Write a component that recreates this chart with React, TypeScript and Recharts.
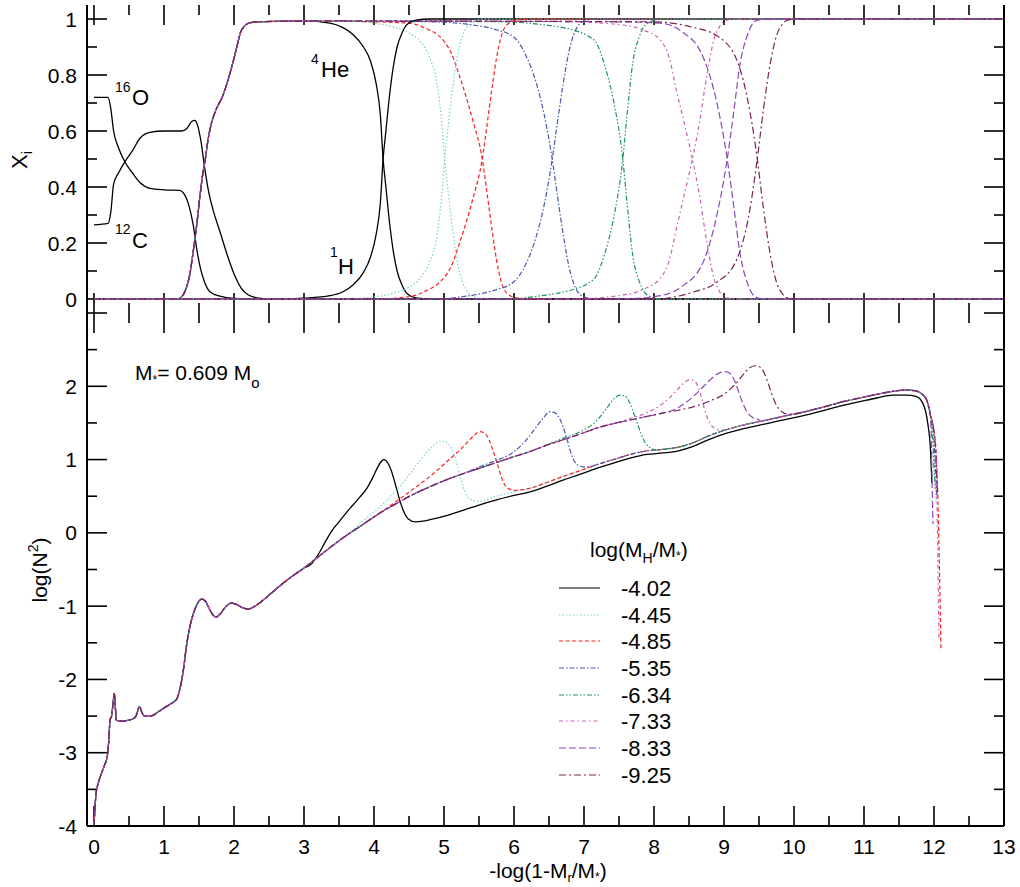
import React from 'react';
import { ComposedChart, Line, XAxis, YAxis, ReferenceLine } from 'recharts';

type Pt = [number, number];

// ---- axes ----
const xMajors = [0, 1, 2, 3, 4, 5, 6, 7, 8, 9, 10, 11, 12, 13];
const xMinors = [0.5, 1.5, 2.5, 3.5, 4.5, 5.5, 6.5, 7.5, 8.5, 9.5, 10.5, 11.5, 12.5];

const topMajors = [0, 0.2, 0.4, 0.6, 0.8, 1];
const topMinors = [0.1, 0.3, 0.5, 0.7, 0.9];

const botMajors = [-4, -3, -2, -1, 0, 1, 2, 3];
const botMinors = [-3.5, -2.5, -1.5, -0.5, 0.5, 1.5, 2.5];
const botLabels = [-4, -3, -2, -1, 0, 1, 2];

// ---- models: log(M_H/M*) ----
const models = ['-4.02', '-4.45', '-4.85', '-5.35', '-6.34', '-7.33', '-8.33', '-9.25'];
const colors = ['#000000', '#79d3cc', '#ff1f1f', '#4a58b0', '#20955a', '#cc60b8', '#8a48b8', '#7a2458'];
const dashes = ['', '1.5 2', '4 2.5', '5 2 1.5 2', '5 2 1.5 2 1.5 2', '4 3 1.5 3', '7 3', '7 3 2 3'];

// ---- top panel: abundances ----
const o16: Pt[] = [[0, 0.72], [0.2, 0.72], [0.24, 0.68], [0.28, 0.6], [0.35, 0.54], [0.44, 0.49], [0.55, 0.45], [0.66, 0.415], [0.8, 0.395], [1.0, 0.39], [1.22, 0.388], [1.3, 0.37], [1.36, 0.33], [1.42, 0.26], [1.47, 0.175], [1.52, 0.11], [1.58, 0.06], [1.66, 0.025], [1.8, 0.01], [2.0, 0.002], [2.3, 0], [13, 0]];
const c12: Pt[] = [[0, 0.265], [0.2, 0.27], [0.24, 0.31], [0.28, 0.41], [0.35, 0.45], [0.44, 0.49], [0.55, 0.53], [0.66, 0.575], [0.8, 0.595], [1.0, 0.6], [1.25, 0.6], [1.33, 0.61], [1.4, 0.635], [1.44, 0.638], [1.48, 0.62], [1.53, 0.56], [1.58, 0.47], [1.64, 0.38], [1.71, 0.31], [1.8, 0.24], [1.9, 0.16], [2.0, 0.09], [2.1, 0.04], [2.2, 0.015], [2.35, 0.003], [2.5, 0], [13, 0]];

const heCore: Pt[] = [[0, 0], [1.2, 0], [1.26, 0.01], [1.32, 0.04], [1.37, 0.09], [1.42, 0.175], [1.47, 0.27], [1.51, 0.36], [1.55, 0.44], [1.59, 0.5], [1.63, 0.57], [1.67, 0.62], [1.75, 0.68], [1.83, 0.72], [1.9, 0.77], [1.99, 0.85], [2.05, 0.91], [2.09, 0.95], [2.15, 0.975], [2.22, 0.986], [2.35, 0.99], [2.7, 0.992], [3.0, 0.993]];

const he402: Pt[] = [[3.37, 0.985], [3.55, 0.97], [3.7, 0.945], [3.85, 0.9], [3.95, 0.85], [4.03, 0.77], [4.09, 0.66], [4.13, 0.5], [4.17, 0.4], [4.21, 0.3], [4.27, 0.18], [4.33, 0.1], [4.4, 0.05], [4.47, 0.02], [4.6, 0.004], [4.8, 0], [13, 0]];
const h402: Pt[] = [[0, 0], [2.7, 0], [3.0, 0.003], [3.37, 0.012], [3.55, 0.025], [3.7, 0.05], [3.85, 0.095], [3.95, 0.15], [4.03, 0.23], [4.09, 0.34], [4.13, 0.5], [4.17, 0.6], [4.21, 0.7], [4.27, 0.82], [4.33, 0.9], [4.4, 0.95], [4.47, 0.98], [4.6, 0.996], [4.8, 1], [13, 1]];
const he445: Pt[] = [[3.6, 0.993], [4.0, 0.985], [4.3, 0.97], [4.5, 0.95], [4.66, 0.92], [4.8, 0.86], [4.9, 0.77], [4.96, 0.65], [5.01, 0.5], [5.07, 0.36], [5.13, 0.235], [5.2, 0.12], [5.27, 0.057], [5.34, 0.025], [5.41, 0.01], [5.6, 0], [13, 0]];
const h445: Pt[] = [[0, 0], [3.6, 0], [4.0, 0.008], [4.3, 0.022], [4.5, 0.042], [4.66, 0.075], [4.8, 0.135], [4.9, 0.225], [4.96, 0.35], [5.01, 0.5], [5.07, 0.64], [5.13, 0.765], [5.2, 0.88], [5.27, 0.943], [5.34, 0.975], [5.41, 0.99], [5.6, 1], [13, 1]];
const he485: Pt[] = [[4.0, 0.99], [4.5, 0.985], [4.75, 0.965], [4.94, 0.937], [5.1, 0.88], [5.23, 0.79], [5.33, 0.71], [5.42, 0.63], [5.54, 0.51], [5.63, 0.35], [5.69, 0.24], [5.75, 0.14], [5.82, 0.06], [5.9, 0.02], [6.05, 0.003], [6.2, 0], [13, 0]];
const h485: Pt[] = [[0, 0], [4.0, 0], [4.5, 0.008], [4.75, 0.03], [4.94, 0.06], [5.1, 0.115], [5.23, 0.205], [5.33, 0.285], [5.42, 0.365], [5.54, 0.49], [5.63, 0.65], [5.69, 0.76], [5.75, 0.86], [5.82, 0.94], [5.9, 0.98], [6.05, 0.997], [6.2, 1], [13, 1]];
const he535: Pt[] = [[4.8, 0.99], [5.37, 0.98], [5.7, 0.965], [5.99, 0.937], [6.17, 0.87], [6.32, 0.77], [6.43, 0.66], [6.54, 0.51], [6.62, 0.37], [6.7, 0.235], [6.8, 0.1], [6.9, 0.03], [6.98, 0.01], [7.15, 0], [13, 0]];
const h535: Pt[] = [[0, 0], [4.8, 0], [5.37, 0.012], [5.7, 0.03], [5.99, 0.06], [6.17, 0.125], [6.32, 0.225], [6.43, 0.335], [6.54, 0.49], [6.62, 0.63], [6.7, 0.765], [6.8, 0.9], [6.9, 0.97], [6.98, 0.99], [7.15, 1], [13, 1]];
const he634: Pt[] = [[5.8, 0.99], [6.4, 0.98], [6.85, 0.96], [7.05, 0.94], [7.18, 0.913], [7.3, 0.83], [7.42, 0.71], [7.55, 0.51], [7.62, 0.33], [7.7, 0.15], [7.78, 0.07], [7.85, 0.03], [7.95, 0.008], [8.1, 0], [13, 0]];
const h634: Pt[] = [[0, 0], [5.8, 0], [6.4, 0.012], [6.85, 0.035], [7.05, 0.055], [7.18, 0.085], [7.3, 0.165], [7.42, 0.285], [7.55, 0.49], [7.62, 0.67], [7.7, 0.85], [7.78, 0.93], [7.85, 0.97], [7.95, 0.99], [8.1, 1], [13, 1]];
const he733: Pt[] = [[6.8, 0.99], [7.5, 0.98], [7.85, 0.96], [8.09, 0.925], [8.22, 0.86], [8.32, 0.746], [8.43, 0.63], [8.54, 0.51], [8.65, 0.37], [8.75, 0.21], [8.85, 0.08], [8.93, 0.03], [8.99, 0.01], [9.15, 0], [13, 0]];
const h733: Pt[] = [[0, 0], [6.8, 0], [7.5, 0.012], [7.85, 0.035], [8.09, 0.075], [8.22, 0.14], [8.32, 0.25], [8.43, 0.37], [8.54, 0.49], [8.65, 0.63], [8.75, 0.79], [8.85, 0.92], [8.93, 0.97], [8.99, 0.99], [9.15, 1], [13, 1]];
const he833: Pt[] = [[7.5, 0.99], [8.09, 0.985], [8.4, 0.955], [8.7, 0.865], [8.89, 0.71], [9.04, 0.51], [9.14, 0.33], [9.23, 0.16], [9.33, 0.06], [9.4, 0.02], [9.47, 0.005], [9.6, 0], [13, 0]];
const h833: Pt[] = [[0, 0], [7.5, 0], [8.09, 0.012], [8.4, 0.045], [8.7, 0.13], [8.89, 0.29], [9.04, 0.49], [9.14, 0.67], [9.23, 0.84], [9.33, 0.94], [9.4, 0.98], [9.47, 0.995], [9.6, 1], [13, 1]];
const he925: Pt[] = [[8.0, 0.99], [8.56, 0.97], [8.9, 0.94], [9.18, 0.855], [9.37, 0.67], [9.47, 0.51], [9.56, 0.33], [9.66, 0.16], [9.75, 0.06], [9.83, 0.02], [9.9, 0.005], [10.05, 0], [13, 0]];
const h925: Pt[] = [[0, 0], [8.0, 0], [8.56, 0.025], [8.9, 0.06], [9.18, 0.14], [9.37, 0.32], [9.47, 0.49], [9.56, 0.67], [9.66, 0.84], [9.75, 0.94], [9.83, 0.98], [9.9, 0.995], [10.05, 1], [13, 1]];

const heTails = [he402, he445, he485, he535, he634, he733, he833, he925];
const hCurves = [h402, h445, h485, h535, h634, h733, h833, h925];

// ---- bottom panel: log(N^2) ----
const n2Core: Pt[] = [[0, -4.0], [0.03, -3.55], [0.06, -3.42], [0.1, -3.3], [0.15, -3.17], [0.19, -3.05], [0.21, -2.85], [0.23, -2.55], [0.25, -2.5], [0.27, -2.35], [0.29, -2.19], [0.3, -2.3], [0.32, -2.56], [0.4, -2.57], [0.47, -2.56], [0.55, -2.54], [0.6, -2.5], [0.65, -2.37], [0.68, -2.44], [0.72, -2.5], [0.78, -2.5], [0.84, -2.49], [0.92, -2.44], [1.0, -2.39], [1.1, -2.33], [1.18, -2.27], [1.23, -2.12], [1.28, -1.85], [1.32, -1.55], [1.37, -1.28], [1.42, -1.1], [1.48, -0.96], [1.54, -0.905], [1.59, -0.93], [1.64, -1.02], [1.69, -1.11], [1.74, -1.15], [1.8, -1.11], [1.88, -1.01], [1.96, -0.96], [2.04, -0.98], [2.12, -1.02], [2.2, -1.04], [2.3, -1.0], [2.4, -0.93], [2.5, -0.85], [2.75, -0.65], [3.0, -0.48]];

const upperEnv: Pt[] = [[3.2, -0.33], [3.4, -0.18], [3.6, -0.04], [3.85, 0.12], [4.1, 0.28], [4.32, 0.4], [4.55, 0.52], [4.8, 0.63], [5.05, 0.73], [5.28, 0.81], [5.5, 0.88], [5.75, 0.96], [6.0, 1.04], [6.23, 1.11], [6.45, 1.19], [6.7, 1.27], [6.95, 1.35], [7.18, 1.43], [7.42, 1.49], [7.66, 1.54], [7.9, 1.59], [8.1, 1.63], [8.33, 1.67], [8.56, 1.72]];

const lowerBlack: Pt[] = [[4.8, 0.18], [5.05, 0.24], [5.28, 0.31], [5.5, 0.38], [5.75, 0.45], [6.0, 0.51], [6.23, 0.56], [6.45, 0.63], [6.7, 0.72], [6.95, 0.8], [7.18, 0.88], [7.42, 0.95], [7.66, 1.02], [7.9, 1.07], [8.13, 1.09], [8.35, 1.12], [8.56, 1.18], [8.8, 1.28], [9.04, 1.36], [9.27, 1.42], [9.51, 1.47], [9.75, 1.52], [9.99, 1.57], [10.23, 1.62], [10.47, 1.68], [10.7, 1.74], [10.94, 1.79], [11.18, 1.84], [11.41, 1.88], [11.61, 1.88], [11.75, 1.86], [11.84, 1.77], [11.91, 1.5], [11.95, 1.13], [11.97, 0.68]];
const lowerColored: Pt[] = [[5.5, 0.43], [5.75, 0.5], [6.0, 0.56], [6.23, 0.61], [6.45, 0.68], [6.7, 0.77], [6.95, 0.85], [7.18, 0.93], [7.42, 1.0], [7.66, 1.07], [7.9, 1.12], [8.13, 1.14], [8.35, 1.17], [8.56, 1.23], [8.8, 1.33], [9.04, 1.41], [9.27, 1.47], [9.51, 1.52], [9.75, 1.57], [9.99, 1.62], [10.23, 1.67], [10.47, 1.73], [10.7, 1.79], [10.94, 1.84], [11.18, 1.89], [11.41, 1.93], [11.6, 1.95], [11.72, 1.94], [11.82, 1.9], [11.9, 1.8], [11.95, 1.6]];

const peak402: Pt[] = [[3.1, -0.43], [3.2, -0.3], [3.3, -0.13], [3.4, 0.03], [3.5, 0.15], [3.6, 0.27], [3.7, 0.38], [3.8, 0.49], [3.9, 0.61], [3.98, 0.75], [4.05, 0.89], [4.1, 0.97], [4.14, 1.0], [4.2, 0.95], [4.25, 0.84], [4.3, 0.68], [4.36, 0.47], [4.42, 0.3], [4.49, 0.19], [4.59, 0.15], [4.7, 0.16]];
const peak445: Pt[] = [[3.85, 0.17], [4.1, 0.37], [4.32, 0.58], [4.5, 0.79], [4.7, 1.04], [4.85, 1.19], [4.95, 1.25], [5.02, 1.24], [5.09, 1.18], [5.15, 1.06], [5.2, 0.88], [5.25, 0.7], [5.3, 0.56], [5.36, 0.47], [5.43, 0.44]];
const peak485: Pt[] = [[4.32, 0.43], [4.55, 0.59], [4.8, 0.77], [5.05, 0.98], [5.28, 1.18], [5.42, 1.32], [5.51, 1.38], [5.58, 1.36], [5.64, 1.28], [5.7, 1.12], [5.75, 0.98], [5.8, 0.82], [5.86, 0.67], [5.93, 0.6], [6.02, 0.58], [6.12, 0.59]];
const peak535: Pt[] = [[5.5, 0.9], [5.75, 0.99], [5.99, 1.1], [6.15, 1.24], [6.3, 1.42], [6.42, 1.57], [6.51, 1.65], [6.58, 1.64], [6.64, 1.58], [6.7, 1.45], [6.76, 1.27], [6.81, 1.1], [6.86, 0.98], [6.92, 0.92], [6.99, 0.9], [7.07, 0.9]];
const peak634: Pt[] = [[6.7, 1.29], [6.95, 1.38], [7.18, 1.53], [7.33, 1.71], [7.44, 1.84], [7.51, 1.88], [7.58, 1.87], [7.64, 1.8], [7.7, 1.66], [7.76, 1.5], [7.82, 1.34], [7.88, 1.22], [7.95, 1.16], [8.04, 1.13]];
const peak733: Pt[] = [[7.66, 1.56], [7.9, 1.64], [8.09, 1.74], [8.23, 1.85], [8.37, 1.99], [8.46, 2.07], [8.52, 2.09], [8.58, 2.07], [8.63, 1.99], [8.68, 1.84], [8.73, 1.66], [8.79, 1.51], [8.86, 1.43], [8.94, 1.4]];
const peak833: Pt[] = [[8.33, 1.7], [8.56, 1.86], [8.72, 2.01], [8.85, 2.13], [8.95, 2.19], [9.02, 2.2], [9.08, 2.18], [9.14, 2.1], [9.2, 1.95], [9.26, 1.79], [9.33, 1.65], [9.4, 1.58], [9.5, 1.54]];
const peak925: Pt[] = [[8.8, 1.8], [9.04, 1.92], [9.2, 2.07], [9.3, 2.19], [9.38, 2.26], [9.44, 2.28], [9.5, 2.27], [9.56, 2.21], [9.62, 2.07], [9.68, 1.9], [9.75, 1.74], [9.83, 1.65], [9.92, 1.62]];

const tail445: Pt[] = [[11.98, 1.3], [12.01, 0.8], [12.03, 0.4]];
const tail485: Pt[] = [[11.99, 1.45], [12.03, 1.1], [12.06, 0.3], [12.08, -0.6], [12.1, -1.6]];
const tail535: Pt[] = [[11.99, 1.4], [12.02, 0.9], [12.04, 0.5]];
const tail634: Pt[] = [[11.98, 1.3], [12.0, 0.9], [12.02, 0.6]];
const tail733: Pt[] = [[11.99, 1.45], [12.03, 1.0], [12.05, 0.0], [12.07, -1.45]];
const tail833: Pt[] = [[11.965, 1.1], [11.975, 0.6], [11.985, 0.12]];
const tail925: Pt[] = [[11.99, 1.45], [12.03, 1.0], [12.05, 0.5]];

const peaks = [peak445, peak485, peak535, peak634, peak733, peak833, peak925];
const tails = [tail445, tail485, tail535, tail634, tail733, tail833, tail925];

const toRows = (pts: Pt[]) => pts.map(([x, y]) => ({ x, y }));

// each colored model follows the upper curve, peaks, then follows the lower curve
const n2Curves: Pt[][] = [
  [...n2Core, ...peak402, ...lowerBlack],
  ...peaks.map((pk, i) => {
    const first = pk[0][0];
    const last = pk[pk.length - 1][0];
    return [
      ...n2Core,
      ...upperEnv.filter((p) => p[0] < first),
      ...pk,
      ...lowerColored.filter((p) => p[0] > last),
      ...tails[i],
    ];
  }),
];

// ---- axis helpers ----
const X_DOMAIN: [number, number] = [-0.1, 13];
const PLOT_W = 917;

const leftLabel = (props: any) => (
  <text x={Number(props.x) - 10} y={Number(props.y)} dy="0.36em" textAnchor="end" fontSize={21} fill="#000">
    {String(props.payload.value)}
  </text>
);
const bottomLabel = (props: any) => (
  <text x={Number(props.x)} y={Number(props.y) + 20} dy="0.36em" textAnchor="middle" fontSize={21} fill="#000">
    {String(props.payload.value)}
  </text>
);
const noLabel = () => <g />;
const lineStyle = { stroke: '#000', strokeWidth: 2 };

// inward tick marks on all four sides (20px major, 10px minor)
function tickMarks(yDomain: [number, number], plotH: number, yMajors: number[], yMinors: number[]) {
  const dx = (px: number) => (px * (X_DOMAIN[1] - X_DOMAIN[0])) / PLOT_W;
  const dy = (px: number) => (px * (yDomain[1] - yDomain[0])) / plotH;
  const segs: { x: number; y: number }[][] = [];
  const addX = (v: number, len: number) => {
    segs.push([{ x: v, y: yDomain[0] }, { x: v, y: yDomain[0] + dy(len) }]);
    segs.push([{ x: v, y: yDomain[1] }, { x: v, y: yDomain[1] - dy(len) }]);
  };
  const addY = (v: number, len: number) => {
    segs.push([{ x: X_DOMAIN[0], y: v }, { x: X_DOMAIN[0] + dx(len), y: v }]);
    segs.push([{ x: X_DOMAIN[1], y: v }, { x: X_DOMAIN[1] - dx(len), y: v }]);
  };
  xMajors.forEach((v) => addX(v, 20));
  xMinors.forEach((v) => addX(v, 10));
  yMajors.forEach((v) => addY(v, 20));
  yMinors.forEach((v) => addY(v, 10));
  return segs.map((s, i) => (
    <ReferenceLine key={`tk${i}`} segment={s} stroke="#000" strokeWidth={1.6} ifOverflow="visible" />
  ));
}

function frame(yDomain: [number, number], yLabels: number[], withXLabels: boolean, bottomHeight: number) {
  return [
    <XAxis key="xb" type="number" dataKey="x" domain={X_DOMAIN} ticks={xMajors} interval={0} allowDataOverflow
      height={bottomHeight} tickSize={0} tickMargin={0} tickLine={false} axisLine={lineStyle}
      tick={withXLabels ? bottomLabel : noLabel} />,
    <XAxis key="xt" xAxisId="top" orientation="top" type="number" dataKey="x" domain={X_DOMAIN} ticks={xMajors} interval={0}
      allowDataOverflow height={0} tickSize={0} tickMargin={0} tickLine={false} axisLine={lineStyle} tick={noLabel} />,
    <YAxis key="yl" type="number" domain={yDomain} ticks={yLabels} interval={0} allowDataOverflow width={87}
      tickSize={0} tickMargin={0} tickLine={false} axisLine={lineStyle} tick={leftLabel} />,
    <YAxis key="yr" yAxisId="right" orientation="right" type="number" domain={yDomain} ticks={yLabels} interval={0}
      allowDataOverflow width={16} tickSize={0} tickMargin={0} tickLine={false} axisLine={lineStyle} tick={noLabel} />,
  ];
}

function TopPanel() {
  const yDomain: [number, number] = [-0.05, 1.05];
  return (
    <ComposedChart width={1020} height={318} margin={{ top: 5, right: 0, bottom: 5, left: 0 }}>
      {frame(yDomain, topMajors, false, 0)}
      {tickMarks(yDomain, 308, topMajors, topMinors)}
      <Line data={toRows(o16)} dataKey="y" type="monotone" stroke="#000" strokeWidth={1.3} dot={false} isAnimationActive={false} />
      <Line data={toRows(c12)} dataKey="y" type="monotone" stroke="#000" strokeWidth={1.3} dot={false} isAnimationActive={false} />
      {models.map((m, i) => (
        <Line key={`he${m}`} data={toRows([...heCore, ...heTails[i]])} dataKey="y" type="monotone" stroke={colors[i]}
          strokeDasharray={dashes[i]} strokeWidth={i === 0 ? 1.3 : 1.2} dot={false} isAnimationActive={false} />
      ))}
      {models.map((m, i) => (
        <Line key={`h${m}`} data={toRows(hCurves[i])} dataKey="y" type="monotone" stroke={colors[i]}
          strokeDasharray={dashes[i]} strokeWidth={i === 0 ? 1.3 : 1.2} dot={false} isAnimationActive={false} />
      ))}
    </ComposedChart>
  );
}

function BottomPanel() {
  const yDomain: [number, number] = [-4, 3];
  return (
    <ComposedChart width={1020} height={579} margin={{ top: 5, right: 0, bottom: 0, left: 0 }}>
      {frame(yDomain, botLabels, true, 61)}
      {tickMarks(yDomain, 513, botMajors, botMinors)}
      {models.map((m, i) => (
        <Line key={`n2${m}`} data={toRows(n2Curves[i])} dataKey="y" type="monotone" stroke={colors[i]}
          strokeDasharray={dashes[i]} strokeWidth={i === 0 ? 1.3 : 1.2} dot={false} isAnimationActive={false} />
      ))}
    </ComposedChart>
  );
}

function Overlay() {
  const legendY = [588, 615, 641, 668, 695, 721, 748, 775];
  return (
    <svg width={1020} height={887} style={{ position: 'absolute', left: 0, top: 0, pointerEvents: 'none' }}
      fontFamily='"Liberation Sans", Arial, sans-serif' fill="#000">
      <text x={27} y={160} transform="rotate(-90 27 160)" textAnchor="middle" fontSize={22}>
        X<tspan fontSize={14} dy={5}>i</tspan>
      </text>
      <text x={47} y={570} transform="rotate(-90 47 570)" textAnchor="middle" fontSize={21}>
        log(N<tspan fontSize={14} dy={-9}>2</tspan><tspan dy={9}>)</tspan>
      </text>
      <text x={548} y={878} textAnchor="middle" fontSize={21}>
        -log(1-M<tspan fontSize={13} dy={4}>r</tspan><tspan dy={-4}>/M</tspan><tspan fontSize={12} dy={3}>*</tspan><tspan dy={-3}>)</tspan>
      </text>
      <text x={115} y={92} fontSize={14}>16</text>
      <text x={132} y={105} fontSize={22}>O</text>
      <text x={115} y={234} fontSize={14}>12</text>
      <text x={132} y={248} fontSize={22}>C</text>
      <text x={311} y={64} fontSize={14}>4</text>
      <text x={321} y={77} fontSize={22}>He</text>
      <text x={330} y={257} fontSize={14}>1</text>
      <text x={338} y={274} fontSize={22}>H</text>
      <text x={135} y={380} fontSize={21}>
        M<tspan fontSize={12} dy={4}>*</tspan><tspan dy={-4}>= 0.609 M</tspan><tspan fontSize={15} dy={8}>o</tspan>
      </text>
      <text x={590} y={557} fontSize={21}>
        log(M<tspan fontSize={14} dy={6}>H</tspan><tspan dy={-6}>/M</tspan><tspan fontSize={12} dy={3}>*</tspan><tspan dy={-3}>)</tspan>
      </text>
      {models.map((m, i) => (
        <g key={m}>
          <line x1={559} x2={600} y1={legendY[i]} y2={legendY[i]} stroke={colors[i]} strokeWidth={1.2} strokeDasharray={dashes[i]} />
          <text x={621} y={legendY[i]} dy="0.36em" fontSize={22}>{m}</text>
        </g>
      ))}
    </svg>
  );
}

export default function App() {
  return (
    <div style={{ position: 'absolute', left: 0, top: 0, width: 1020, height: 887, background: '#fff', fontFamily: '"Liberation Sans", Arial, sans-serif' }}>
      <div style={{ position: 'absolute', left: 0, top: 0 }}>
        <TopPanel />
      </div>
      <div style={{ position: 'absolute', left: 0, top: 308 }}>
        <BottomPanel />
      </div>
      <Overlay />
    </div>
  );
}
